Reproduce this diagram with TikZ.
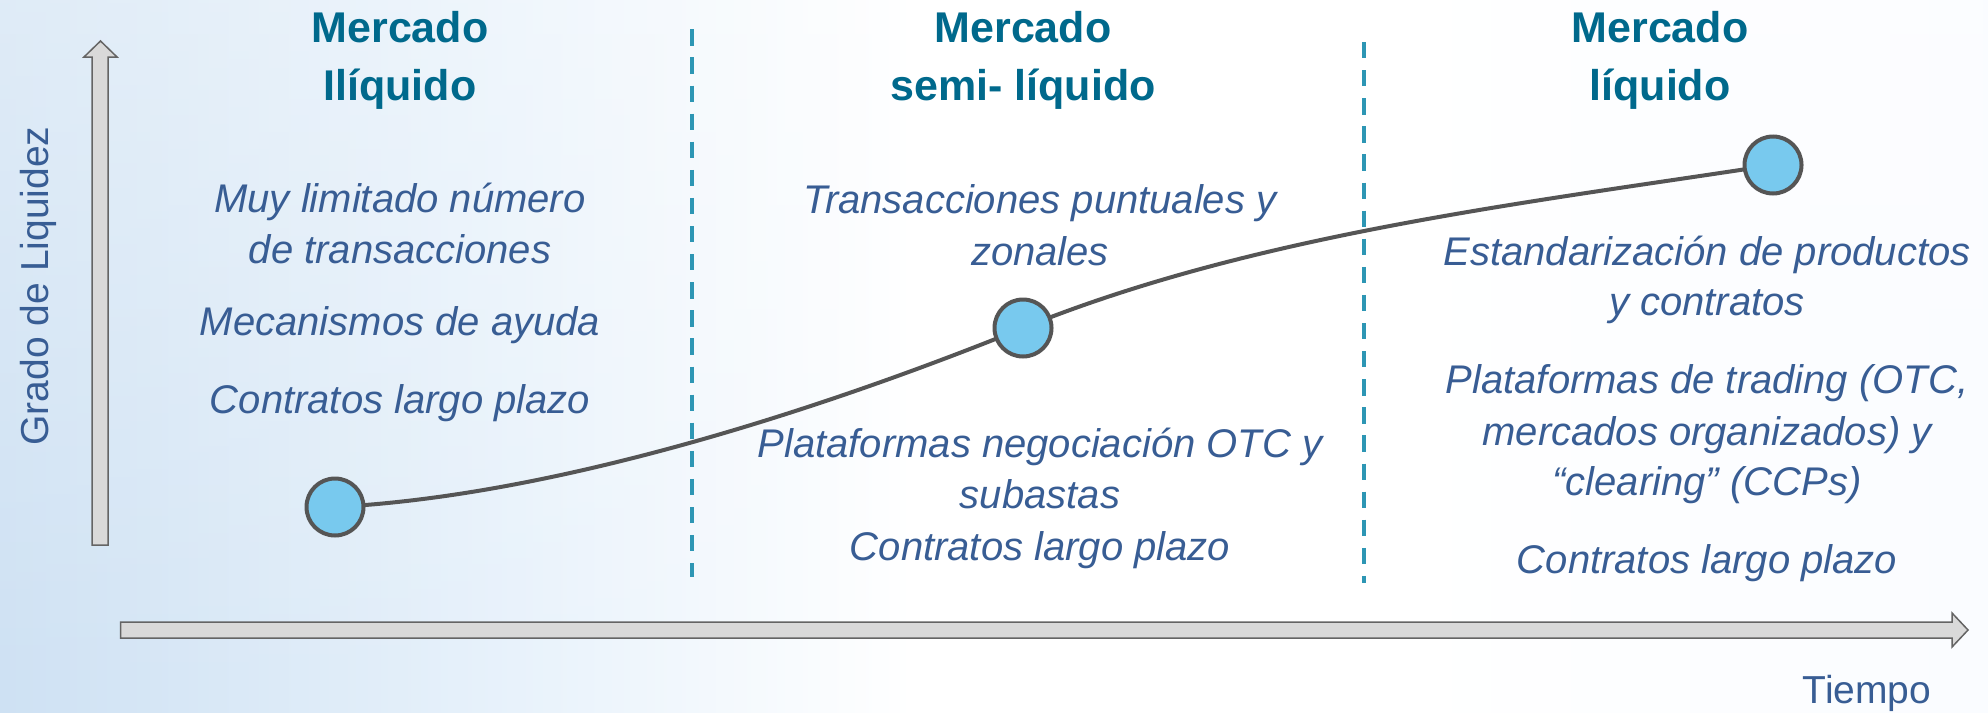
\documentclass[tikz,border=0pt]{standalone}
\usepackage{fontspec}
\setmainfont{Liberation Sans}
\usetikzlibrary{fadings}
\definecolor{bgL}{RGB}{206,225,243}
\definecolor{bgM}{RGB}{232,242,251}
\definecolor{bgR}{RGB}{250,252,255}
\definecolor{titlec}{RGB}{0,105,140}
\definecolor{bodyc}{RGB}{56,93,148}
\definecolor{dashc}{RGB}{45,150,180}
\definecolor{curvec}{RGB}{85,85,85}
\definecolor{dotc}{RGB}{120,201,238}
\definecolor{arrowf}{RGB}{217,217,217}
\definecolor{arrowd}{RGB}{100,100,100}
\pgfdeclarehorizontalshading{bgshade}{100bp}{color(0bp)=(bgL); color(25bp)=(bgL); color(38bp)=(bgM); color(48bp)=(white); color(60bp)=(white); color(75bp)=(bgR); color(100bp)=(bgR)}
\pgfdeclarelayer{bg}
\pgfdeclarelayer{mid}
\pgfsetlayers{bg,mid,main}
\begin{document}
\begin{tikzpicture}[x=1pt,y=-1pt,
  titletext/.style={anchor=base,text=titlec,font=\fontsize{43}{50}\selectfont\bfseries,inner sep=0},
  bodytext/.style={anchor=base,text=bodyc,font=\fontsize{40}{50}\selectfont\itshape,inner sep=0},
  axislabel/.style={anchor=base,text=bodyc,font=\fontsize{39}{48}\selectfont,inner sep=0},
  axisarrow/.style={fill=arrowf,draw=arrowd,line width=1.5pt,line join=miter},
  divider/.style={draw=dashc,line width=4pt,dash pattern=on 16.3pt off 11.8pt},
  dot/.style={circle,minimum size=57pt,inner sep=0,fill=dotc,draw=curvec,line width=4pt},
  curveline/.style={draw=curvec,line width=4pt}]
\useasboundingbox (0,0) rectangle (1988,712);
\begin{pgfonlayer}{bg}
\shade[shading=bgshade] (0,0) rectangle (1988,712);
\fill[white,fill opacity=0.35,path fading=south] (0,0) rectangle (1988,712);
\end{pgfonlayer}

% axes
\path[axisarrow] (92,545) -- (92,57) -- (84,57) -- (100.5,41) -- (117,57) -- (108,57) -- (108,545) -- cycle;
\path[axisarrow] (120.5,622) -- (1952,622) -- (1952,613) -- (1968,630) -- (1952,647) -- (1952,638) -- (120.5,638) -- cycle;
\node[axislabel,rotate=90] (ylab) at (48.5,286) {Grado de Liquidez};
\node[axislabel] (xlab) at (1867,703) {Tiempo};

% dividers
\coordinate (d1t) at (692,29.3); \coordinate (d1b) at (692,577);
\coordinate (d2t) at (1364,42); \coordinate (d2b) at (1364,583);
\draw[divider] (d1t) -- (d1b);
\draw[divider] (d2t) -- (d2b);

% titles
\node[titletext] (t1a) at (400,42) {Mercado};
\node[titletext] (t1b) at (400,100) {Ilíquido};
\node[titletext] (t2a) at (1023,42) {Mercado};
\node[titletext] (t2b) at (1023,100) {semi- líquido};
\node[titletext] (t3a) at (1660,42) {Mercado};
\node[titletext] (t3b) at (1660,100) {líquido};

% column 1
\node[bodytext] (c1a) at (400,212) {Muy limitado número};
\node[bodytext] (c1b) at (400,263) {de transacciones};
\node[bodytext] (c1c) at (400,335) {Mecanismos de ayuda};
\node[bodytext] (c1d) at (400,413) {Contratos largo plazo};
% column 2
\node[bodytext] (c2a) at (1040,213) {Transacciones puntuales y};
\node[bodytext] (c2b) at (1040,265) {zonales};
\node[bodytext] (c2c) at (1040,457) {Plataformas negociación OTC y};
\node[bodytext] (c2d) at (1040,508) {subastas};
\node[bodytext] (c2e) at (1040,560) {Contratos largo plazo};
% column 3
\node[bodytext] (c3a) at (1707,265) {Estandarización de productos};
\node[bodytext] (c3b) at (1707,315) {y contratos};
\node[bodytext] (c3c) at (1707,393) {Plataformas de trading (OTC,};
\node[bodytext] (c3d) at (1707,445) {mercados organizados) y};
\node[bodytext] (c3e) at (1707,495) {“clearing” (CCPs)};
\node[bodytext] (c3f) at (1707,573) {Contratos largo plazo};

% points and curve
\node[dot] (n1) at (335,507) {};
\node[dot] (n2) at (1023,328) {};
\node[dot] (n3) at (1773,165) {};
\begin{pgfonlayer}{mid}
\draw[curveline] (n1.center) .. controls (569,495) and (845,400) .. (n2.center) .. controls (1255,234) and (1526,203) .. (n3.center);
\end{pgfonlayer}
\end{tikzpicture}
\end{document}
